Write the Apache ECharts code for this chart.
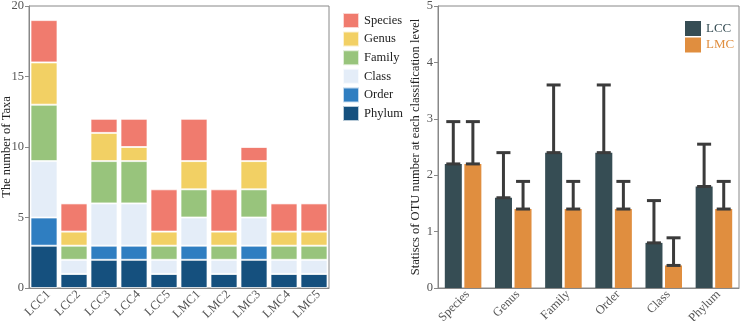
<!DOCTYPE html>
<html>
<head>
<meta charset="utf-8">
<script src="https://cdn.jsdelivr.net/npm/echarts@6/dist/echarts.min.js"></script>
<style>
html,body{margin:0;padding:0;background:#fff}
#main{width:742px;height:321px}
</style>
</head>
<body>
<div id="main"></div>
<script>
// left chart: taxa counts per sample
var samples = ['LCC1','LCC2','LCC3','LCC4','LCC5','LMC1','LMC2','LMC3','LMC4','LMC5'];
var phylum  = [3,1,2,2,1,2,1,2,1,1];
var order   = [2,0,1,1,0,1,0,1,0,0];
var klass   = [4,1,3,3,1,2,1,2,1,1];
var family  = [4,1,3,3,1,2,1,2,1,1];
var genus   = [3,1,2,1,1,2,1,2,1,1];
var species = [3,2,1,2,3,3,3,1,2,2];

// right chart: mean OTU number per level, with upper error
var levels   = ['Species','Genus','Family','Order','Class','Phylum'];
var lccMean  = [2.2,1.6,2.4,2.4,0.8,1.8];
var lccUpper = [2.95,2.4,3.6,3.6,1.55,2.55];
var lmcMean  = [2.2,1.4,1.4,1.4,0.4,1.4];
var lmcUpper = [2.95,1.89,1.89,1.89,0.89,1.89];

var serif = 'Liberation Serif, Times New Roman, serif';
var taxaColors = {Species:'#F07B6E',Genus:'#F2D064',Family:'#98C47C',Class:'#E4EDF8',Order:'#2F7EC1',Phylum:'#15507E'};

function stackBar(name, data){
  return {
    name: name, type: 'bar', stack: 'taxa', data: data,
    xAxisIndex: 0, yAxisIndex: 0, barCategoryGap: '10%',
    itemStyle: {color: taxaColors[name], borderColor: 'rgba(255,255,255,0.7)', borderWidth: 1}
  };
}

function errBar(mean, upper, shift){
  var d = [];
  for (var i = 0; i < mean.length; i++) d.push([i, mean[i], upper[i]]);
  return {
    type: 'custom', xAxisIndex: 1, yAxisIndex: 1, z: 5, data: d,
    renderItem: function(params, api){
      var x = api.coord([api.value(0), 0])[0] + shift;
      var y0 = api.coord([api.value(0), api.value(1)])[1];
      var y1 = api.coord([api.value(0), api.value(2)])[1];
      var st = {stroke: '#3b3b3b', lineWidth: 3};
      return {type: 'group', children: [
        {type: 'line', shape: {x1: x, y1: y0, x2: x, y2: y1}, style: st},
        {type: 'line', shape: {x1: x-7, y1: y1, x2: x+7, y2: y1}, style: st},
        {type: 'line', shape: {x1: x-7, y1: y0, x2: x+7, y2: y0}, style: st}
      ]};
    }
  };
}

var tickLabel = {fontFamily: serif, fontSize: 12.5, color: '#555'};
var axLine = {lineStyle: {color: '#888'}};

var chart = echarts.init(document.getElementById('main'));
chart.setOption({
  animation: false,
  textStyle: {fontFamily: serif},
  grid: [
    {left: 29, right: 413, top: 6, bottom: 33, show: true, borderColor: '#888', borderWidth: 1,
     containLabel: false, outerBoundsMode: 'none'},
    {left: 438, right: 3, top: 6, bottom: 33, show: true, borderColor: '#888', borderWidth: 1,
     containLabel: false, outerBoundsMode: 'none'}
  ],
  legend: [
    {
      data: ['Species','Genus','Family','Class','Order','Phylum'],
      orient: 'vertical', left: 337, top: 7, itemWidth: 16, itemHeight: 15, itemGap: 1.6,
      icon: 'rect', textStyle: {fontFamily: serif, fontSize: 12.5, color: '#222'}
    },
    {
      data: [{name: 'LCC', textStyle: {color: '#364D54'}}, {name: 'LMC', textStyle: {color: '#E08E3F'}}],
      orient: 'vertical', left: 680, top: 16, itemWidth: 16, itemHeight: 15, itemGap: 1.5,
      icon: 'rect', textStyle: {fontFamily: serif, fontSize: 13}
    }
  ],
  xAxis: [
    {type: 'category', gridIndex: 0, data: samples, axisLine: axLine,
     axisTick: {alignWithLabel: true, length: 4, lineStyle: {color: '#888'}},
     axisLabel: Object.assign({rotate: 45, margin: 0, interval: 0, verticalAlign: 'top'}, tickLabel)},
    {type: 'category', gridIndex: 1, data: levels, axisLine: axLine,
     axisTick: {alignWithLabel: true, length: 4, lineStyle: {color: '#888'}},
     axisLabel: Object.assign({rotate: 45, margin: 0, interval: 0, verticalAlign: 'top'}, tickLabel)}
  ],
  yAxis: [
    {type: 'value', gridIndex: 0, min: 0, max: 20, interval: 5,
     name: 'The number of Taxa', nameLocation: 'middle', nameGap: 16, nameMoveOverlap: false,
     nameTextStyle: {fontFamily: serif, fontSize: 12.5, color: '#222'},
     axisLine: {show: true, lineStyle: {color: '#888'}},
     axisTick: {show: true, length: 4, lineStyle: {color: '#888'}},
     axisLabel: Object.assign({margin: 5}, tickLabel), splitLine: {show: false}},
    {type: 'value', gridIndex: 1, min: 0, max: 5, interval: 1,
     name: 'Statiscs of OTU number at each classification level', nameLocation: 'middle', nameGap: 16,
     nameMoveOverlap: false,
     nameTextStyle: {fontFamily: serif, fontSize: 12.5, color: '#222'},
     axisLine: {show: true, lineStyle: {color: '#888'}},
     axisTick: {show: true, length: 4, lineStyle: {color: '#888'}},
     axisLabel: Object.assign({margin: 5}, tickLabel), splitLine: {show: false}}
  ],
  series: [
    stackBar('Phylum', phylum),
    stackBar('Order', order),
    stackBar('Class', klass),
    stackBar('Family', family),
    stackBar('Genus', genus),
    stackBar('Species', species),
    {name: 'LCC', type: 'bar', xAxisIndex: 1, yAxisIndex: 1, data: lccMean, barWidth: 17, barGap: '15%',
     itemStyle: {color: '#364D54'}},
    {name: 'LMC', type: 'bar', xAxisIndex: 1, yAxisIndex: 1, data: lmcMean, barWidth: 17, barGap: '15%',
     itemStyle: {color: '#E08E3F'}},
    errBar(lccMean, lccUpper, -9.8),
    errBar(lmcMean, lmcUpper, 9.8)
  ]
});
</script>
</body>
</html>
